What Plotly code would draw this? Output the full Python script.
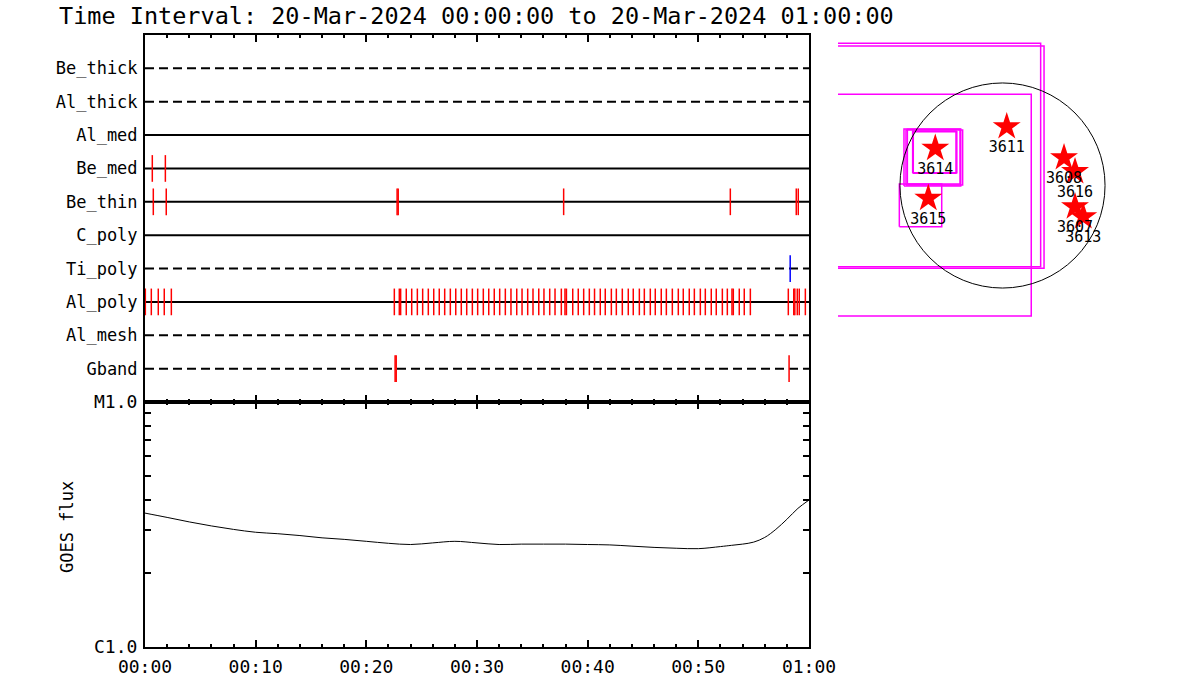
import plotly.graph_objects as go

# ---------------- data ----------------
filters = ["Be_thick", "Al_thick", "Al_med", "Be_med", "Be_thin",
           "C_poly", "Ti_poly", "Al_poly", "Al_mesh", "Gband"]
filter_dashed = [True, True, False, False, False, False, True, False, True, True]

# observation times (minutes after 20-Mar-2024 00:00) per filter
be_med_times = [0.66, 1.84]
be_thin_times = [0.75, 1.92, 22.78, 22.88, 37.83, 52.89, 58.85, 59.03]
ti_poly_times = [58.30]
al_poly_times = [0.03, 0.57, 1.20, 1.74, 2.38,
                 22.53, 22.98, 23.10, 23.61, 24.10, 24.61, 25.09, 25.60, 26.09,
                 26.59, 27.08, 27.59, 28.08, 28.58, 29.07, 29.58, 30.06, 30.57,
                 31.06, 31.56, 32.05, 32.56, 33.07, 33.59, 34.07, 34.58, 35.06,
                 35.58, 36.05, 36.57, 37.05, 37.62, 37.95, 38.08, 38.65, 39.15,
                 39.64, 40.15, 40.62, 41.14, 41.59, 42.14, 42.59, 43.13, 43.67,
                 44.12, 44.67, 45.12, 45.66, 46.11, 46.65, 47.11, 47.65, 48.19,
                 48.64, 49.18, 49.64, 50.18, 50.63, 51.17, 51.62, 52.17, 52.62,
                 53.04, 53.16, 53.70, 54.15, 54.70,
                 58.13, 58.62, 58.72, 58.94, 59.12, 59.67]
gband_times = [22.60, 22.70, 58.20]

obs_filters = ["Be_med", "Be_thin", "Ti_poly", "Al_poly", "Gband"]
obs_times = [be_med_times, be_thin_times, ti_poly_times, al_poly_times, gband_times]
obs_colors = ["red", "red", "blue", "red", "red"]

# GOES 1-8 A flux
goes_minutes = [0, 2, 4, 6, 8, 10, 12, 14, 16, 18, 20, 22, 24, 26, 28, 30, 32,
                34, 36, 38, 40, 42, 44, 46, 48, 50, 52, 53, 54, 55, 56, 57, 58, 59, 60]
goes_flux = [3.52e-6, 3.38e-6, 3.24e-6, 3.12e-6, 3.02e-6, 2.94e-6, 2.90e-6,
             2.85e-6, 2.79e-6, 2.75e-6, 2.70e-6, 2.65e-6, 2.62e-6, 2.66e-6,
             2.70e-6, 2.66e-6, 2.62e-6, 2.63e-6, 2.63e-6, 2.63e-6, 2.62e-6,
             2.61e-6, 2.58e-6, 2.55e-6, 2.53e-6, 2.52e-6, 2.57e-6, 2.60e-6,
             2.63e-6, 2.68e-6, 2.80e-6, 3.02e-6, 3.32e-6, 3.68e-6, 3.98e-6]

time_ticks = [0, 10, 20, 30, 40, 50, 60]
time_labels = ["00:00", "00:10", "00:20", "00:30", "00:40", "00:50", "01:00"]
goes_ticks = [1e-6, 1e-5]
goes_labels = ["C1.0", "M1.0"]
goes_minor = [2e-6, 3e-6, 4e-6, 5e-6, 6e-6, 7e-6, 8e-6, 9e-6]

# Active regions (solar arcsec)
ar_numbers = ["3614", "3611", "3615", "3608", "3616", "3607", "3613"]
ar_x = [-636, 40, -702, 582, 686, 686, 764]
ar_y = [352, 556, -121, 263, 131, -201, -295]

# XRT field-of-view boxes [x0, x1, y0, y1] (arcsec)
fov_boxes = [[-2000, 361, -768, 1345],
             [-2000, 393, -783, 1320],
             [-2000, 272, -1235, 863],
             [-932, -395, -5, 534],
             [-913, -377, 5, 525],
             [-900, -402, 14, 532],
             [-850, -440, 115, 516],
             [-844, -432, 121, 509],
             [-976, -575, -390, 14]]
solar_radius = 970

title_text = "Time Interval: 20-Mar-2024 00:00:00 to 20-Mar-2024 01:00:00"

# ---------------- figure ----------------
W, H = 1200, 700
FONT = "DejaVu Sans Mono"
fig = go.Figure()

rows = {f: i + 1 for i, f in enumerate(filters)}

for f, dashed in zip(filters, filter_dashed):
    fig.add_trace(go.Scatter(x=[0, 60], y=[rows[f], rows[f]], mode="lines",
                             line=dict(color="black", width=2,
                                       dash="9px,5px" if dashed else "solid"),
                             xaxis="x", yaxis="y", showlegend=False, hoverinfo="skip"))

half = 0.4
for f, times, col in zip(obs_filters, obs_times, obs_colors):
    xs, ys = [], []
    for t in times:
        xs += [t, t, None]
        ys += [rows[f] - half, rows[f] + half, None]
    fig.add_trace(go.Scatter(x=xs, y=ys, mode="lines", line=dict(color=col, width=1.5),
                             xaxis="x", yaxis="y", showlegend=False, hoverinfo="skip"))

fig.add_trace(go.Scatter(x=goes_minutes, y=goes_flux, mode="lines",
                         line=dict(color="black", width=1, shape="spline"),
                         xaxis="x2", yaxis="y2", showlegend=False))

# map panel
for b in fov_boxes:
    x0, x1, y0, y1 = b
    fig.add_trace(go.Scatter(x=[x0, x1, x1, x0, x0], y=[y0, y0, y1, y1, y0], mode="lines",
                             line=dict(color="#FF00FF", width=1.5),
                             xaxis="x3", yaxis="y3", showlegend=False, hoverinfo="skip"))
fig.add_shape(type="circle", xref="x3", yref="y3", x0=-solar_radius, x1=solar_radius,
              y0=-solar_radius, y1=solar_radius, line=dict(color="black", width=1))
fig.add_trace(go.Scatter(x=ar_x, y=ar_y, mode="markers+text", text=ar_numbers,
                         textposition="bottom center",
                         textfont=dict(family=FONT, size=15, color="black"),
                         marker=dict(symbol="star", size=21, color="red", line=dict(width=0)),
                         xaxis="x3", yaxis="y3", showlegend=False, cliponaxis=False))

xdom = [145 / W, 809 / W]
axis_common = dict(showline=True, linecolor="black", linewidth=2, showgrid=False,
                   zeroline=False, automargin=False)
x_common = dict(axis_common, range=[0, 60], domain=xdom, mirror="allticks",
                ticks="inside", tickmode="array", tickvals=time_ticks, ticktext=time_labels,
                ticklen=7, tickwidth=2, tickcolor="black",
                minor=dict(dtick=2, ticks="inside", ticklen=3, tickwidth=2, tickcolor="black"))

# map scale: arcsec per pixel, disk centre pixel
scale = 9.46
cx, cy = 1002.5, 185.5
map_px_x = [838, 1190]
map_px_y = [35, 402]

fig.update_layout(
    template="none",
    width=W, height=H, margin=dict(l=0, r=0, t=0, b=0, pad=0),
    paper_bgcolor="white", plot_bgcolor="white",
    font=dict(family=FONT, color="black"),
    xaxis=dict(x_common, anchor="y", showticklabels=False),
    yaxis=dict(axis_common, domain=[1 - 402 / H, 1 - 35 / H], range=[11, 0], mirror=True,
               tickmode="array", tickvals=list(range(1, len(filters) + 1)), ticktext=filters,
               ticks="", tickfont=dict(size=17), anchor="x", ticklabelstandoff=2),
    xaxis2=dict(x_common, anchor="y2", tickfont=dict(size=18), ticklabelstandoff=2),
    yaxis2=dict(axis_common, domain=[1 - 647 / H, 1 - 402 / H], type="log", range=[-6, -5],
                anchor="x2", mirror="allticks", ticks="inside", tickmode="array",
                tickvals=goes_ticks, ticktext=goes_labels, ticklen=10, tickwidth=2,
                tickcolor="black", tickfont=dict(size=18), ticklabelstandoff=2,
                minor=dict(tickmode="array", tickvals=goes_minor, ticks="inside",
                           ticklen=6, tickwidth=1.5, tickcolor="black")),
    xaxis3=dict(domain=[map_px_x[0] / W, map_px_x[1] / W], anchor="y3", visible=False,
                automargin=False,
                range=[(map_px_x[0] - cx) * scale, (map_px_x[1] - cx) * scale]),
    yaxis3=dict(domain=[1 - map_px_y[1] / H, 1 - map_px_y[0] / H], anchor="x3", visible=False,
                automargin=False,
                range=[(cy - map_px_y[1]) * scale, (cy - map_px_y[0]) * scale]),
    annotations=[
        dict(text=title_text, xref="paper", yref="paper", x=57 / W, y=1 - 16 / H,
             xanchor="left", yanchor="middle", showarrow=False, font=dict(size=23.5)),
        dict(text="GOES flux", xref="paper", yref="paper", x=67 / W, y=1 - 527 / H,
             xanchor="center", yanchor="middle", textangle=-90, showarrow=False,
             font=dict(size=17)),
    ],
)

fig.write_html("out.html", config={"displayModeBar": False},
               post_script="document.body.style.margin='0px';")
